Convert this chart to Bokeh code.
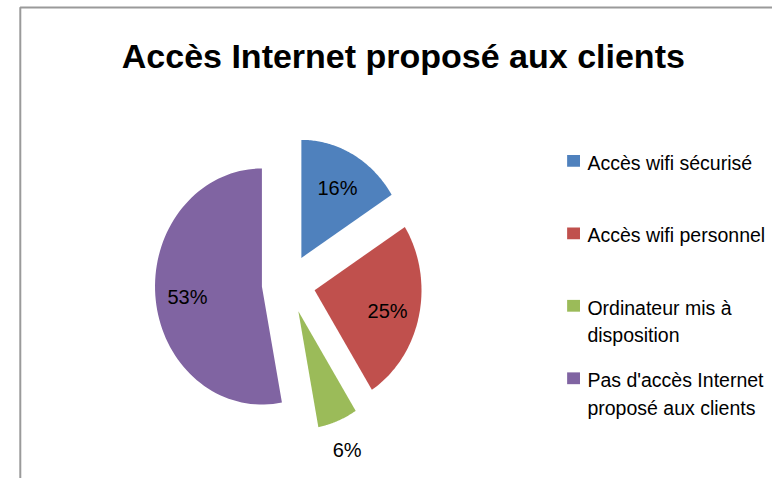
import numpy as np
from bokeh.plotting import figure
from bokeh.models import Range1d
from bokeh.core.properties import value
from bokeh.embed import file_html
from bokeh.resources import INLINE

title_text = "Accès Internet proposé aux clients"
categories = ["Accès wifi sécurisé", "Accès wifi personnel",
              "Ordinateur mis à\ndisposition",
              "Pas d'accès Internet\nproposé aux clients"]
shares = [16, 25, 6, 53]
pct_labels = ["16%", "25%", "6%", "53%"]
colors = ["#4F81BD", "#C0504D", "#9BBB59", "#8064A2"]

FONT = "Liberation Sans"

p = figure(width=772, height=478, x_range=Range1d(0, 780), y_range=Range1d(486, 0),
           output_backend="svg", toolbar_location=None, min_border=0,
           x_axis_type=None, y_axis_type=None)
p.grid.visible = False
p.outline_line_color = None
p.background_fill_color = "white"
p.border_fill_color = "white"

# chart area border
p.line(x=[20, 20, 800], y=[500, 7, 7], line_color="#9a9a9a", line_width=2)

# title
p.text(x=[407], y=[56], text=[title_text], text_font=value(FONT),
       text_font_size="34px", text_font_style="bold", text_color="black",
       text_align="center", text_baseline="middle")

# pie geometry
cx, cy = 291, 288
rx, ry = 108, 120
explode = 30
xs, ys, lx, ly = [], [], [], []
total = float(sum(shares))
cum = 0.0
for s in shares:
    a0 = cum / total * 2 * np.pi
    a1 = (cum + s) / total * 2 * np.pi
    mid = (a0 + a1) / 2
    ox = explode * 0.9 * np.sin(mid)
    oy = -explode * np.cos(mid)
    ax, ay = cx + ox, cy + oy
    t = np.linspace(a0, a1, 80)
    xs.append(list(np.concatenate([[ax], ax + rx * np.sin(t)])))
    ys.append(list(np.concatenate([[ay], ay - ry * np.cos(t)])))
    k = 0.7 if s >= 10 else 1.24
    lx.append(ax + k * rx * np.sin(mid))
    ly.append(ay - k * ry * np.cos(mid) + 3)
    cum += s

p.patches(xs, ys, fill_color=colors, line_color=None)
p.text(x=lx, y=ly, text=pct_labels, text_font=value(FONT), text_font_size="20px",
       text_color="black", text_align="center", text_baseline="middle")

# legend
lg_x, lg_y, lg_step, line_h = 579, 163, 73.7, 28
sq_x, sq_y = [], []
tx, ty, tt = [], [], []
for i, c in enumerate(categories):
    y0 = lg_y + i * lg_step
    sq_x.append(lg_x)
    sq_y.append(y0)
    for j, line in enumerate(c.split("\n")):
        tx.append(593)
        ty.append(y0 + 2 + j * line_h)
        tt.append(line)
p.rect(x=sq_x, y=sq_y, width=13, height=12, fill_color=colors, line_color=None)
p.text(x=tx, y=ty, text=tt, text_font=value(FONT), text_font_size="19.5px",
       text_color="black", text_align="left", text_baseline="middle")

open("out.html", "w").write(file_html(p, INLINE))
